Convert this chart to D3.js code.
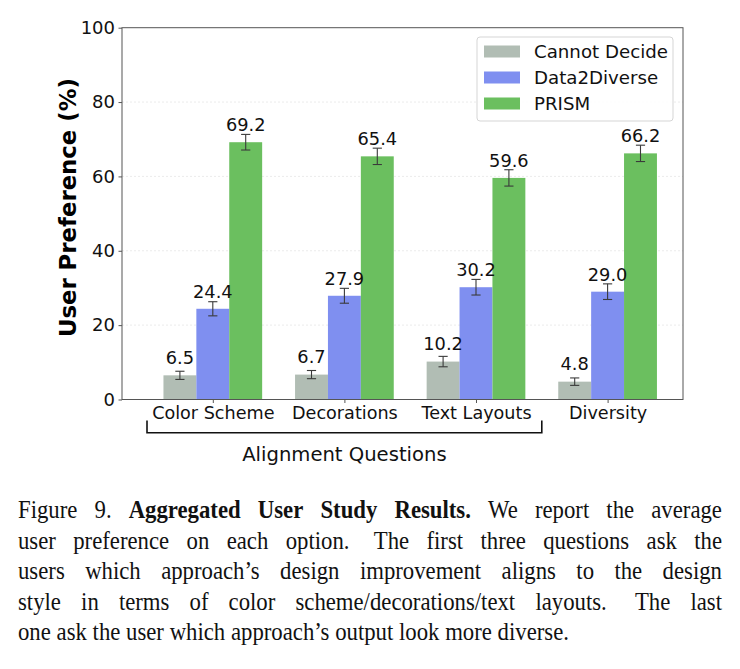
<!DOCTYPE html>
<html>
<head>
<meta charset="utf-8">
<script src="https://cdn.jsdelivr.net/npm/d3@7"></script>
<style>
html,body{margin:0;padding:0;background:#fff;}
svg{display:block;}
</style>
</head>
<body>
<svg id="chart" width="740" height="669"></svg>
<script>
// ---------- data ----------
const categories = ["Color Scheme", "Decorations", "Text Layouts", "Diversity"];
const seriesNames = ["Cannot Decide", "Data2Diverse", "PRISM"];
const cannotDecide = [6.5, 6.7, 10.2, 4.8];
const data2Diverse = [24.4, 27.9, 30.2, 29.0];
const prism = [69.2, 65.4, 59.6, 66.2];
const errCannotDecide = [1.1, 1.1, 1.4, 1.0];
const errData2Diverse = [1.9, 2.0, 2.1, 2.1];
const errPrism = [2.1, 2.2, 2.2, 2.2];
const yTicks = [0, 20, 40, 60, 80, 100];
const groupLabel = "Alignment Questions";
const yTitle = "User Preference (%)";
const captionLines = [
  [["Figure 9.", false], ["Aggregated User Study Results.", true], ["We report the average", false]],
  [["user preference on each option.  The first three questions ask the", false]],
  [["users which approach’s design improvement aligns to the design", false]],
  [["style in terms of color scheme/decorations/text layouts.  The last", false]],
  [["one ask the user which approach’s output look more diverse.", false]]
];

const seriesValues = [cannotDecide, data2Diverse, prism];
const seriesErrors = [errCannotDecide, errData2Diverse, errPrism];
const colors = ["#b1bdb4", "#7f8ff0", "#6bbf5f"];

(function () {
// ---------- layout ----------
const svg = d3.select("#chart");
const pL = 122, pR = 683, pT = 27.7, pB = 399.5;
const x = d3.scaleLinear().domain([-0.69, 3.573]).range([pL, pR]);
const y = d3.scaleLinear().domain([0, 100]).range([pB, pT]);
const barW = 0.25;
const sans = "DejaVu Sans, sans-serif";

// grid
svg.append("g").selectAll("line").data(yTicks.filter(t => t > 0 && t < 100)).join("line")
  .attr("x1", pL).attr("x2", pR)
  .attr("y1", d => y(d)).attr("y2", d => y(d))
  .attr("stroke", "#e6e6e6").attr("stroke-width", 0.8).attr("stroke-dasharray", "2,2");

// bars
seriesValues.forEach((vals, s) => {
  const off = (s - 1) * barW;
  svg.append("g").selectAll("rect").data(vals).join("rect")
    .attr("x", (d, i) => x(i + off - barW / 2))
    .attr("width", x(barW) - x(0))
    .attr("y", d => y(d))
    .attr("height", d => y(0) - y(d))
    .attr("fill", colors[s]);
});

// error bars
seriesValues.forEach((vals, s) => {
  const off = (s - 1) * barW;
  const g = svg.append("g").attr("stroke", "#3a3a3a").attr("stroke-width", 1.1);
  vals.forEach((v, i) => {
    const e = seriesErrors[s][i];
    const cx = x(i + off);
    g.append("line").attr("x1", cx).attr("x2", cx).attr("y1", y(v - e)).attr("y2", y(v + e));
    g.append("line").attr("x1", cx - 4.6).attr("x2", cx + 4.6).attr("y1", y(v - e)).attr("y2", y(v - e));
    g.append("line").attr("x1", cx - 4.6).attr("x2", cx + 4.6).attr("y1", y(v + e)).attr("y2", y(v + e));
  });
});

// value labels
seriesValues.forEach((vals, s) => {
  const off = (s - 1) * barW;
  svg.append("g").selectAll("text").data(vals).join("text")
    .attr("x", (d, i) => x(i + off))
    .attr("y", d => y(d + 3))
    .attr("text-anchor", "middle")
    .attr("font-family", sans).attr("font-size", 17.8).attr("fill", "#111")
    .text(d => d.toFixed(1));
});

// frame
svg.append("rect").attr("x", pL).attr("y", pT).attr("width", pR - pL).attr("height", pB - pT)
  .attr("fill", "none").attr("stroke", "#555").attr("stroke-width", 1);

// y axis
const yAxis = d3.axisLeft(y).tickValues(yTicks).tickSize(3.5).tickPadding(3.5).tickFormat(d3.format("d"));
const yg = svg.append("g").attr("transform", `translate(${pL},0)`).call(yAxis);
yg.select(".domain").remove();
yg.selectAll("line").attr("stroke", "#555");
yg.selectAll("text").attr("font-family", sans).attr("font-size", 18).attr("fill", "#111");

// x axis
const xAxis = d3.axisBottom(x).tickValues(d3.range(categories.length)).tickSize(3.5).tickPadding(4)
  .tickFormat(i => categories[i]);
const xg = svg.append("g").attr("transform", `translate(0,${pB})`).call(xAxis);
xg.select(".domain").remove();
xg.selectAll("line").attr("stroke", "#555");
xg.selectAll("text").attr("font-family", sans).attr("font-size", 17.6).attr("fill", "#111");

// y title
svg.append("text")
  .attr("transform", `translate(76,${(pT + pB) / 2 - 6}) rotate(-90)`)
  .attr("text-anchor", "middle")
  .attr("font-family", sans).attr("font-size", 22.8).attr("font-weight", "bold").attr("fill", "#000")
  .text(yTitle);

// bracket
const bx1 = x(-0.5), bx2 = x(2.5);
svg.append("path")
  .attr("d", `M${bx1},420.5 V432.8 H${bx2} V420.5`)
  .attr("fill", "none").attr("stroke", "#111").attr("stroke-width", 1.6);
svg.append("text")
  .attr("x", (bx1 + bx2) / 2).attr("y", 461)
  .attr("text-anchor", "middle")
  .attr("font-family", sans).attr("font-size", 19.6).attr("fill", "#111")
  .text(groupLabel);

// legend
const lg = svg.append("g");
lg.append("rect").attr("x", 477).attr("y", 37).attr("width", 196).attr("height", 84).attr("rx", 3)
  .attr("fill", "#fff").attr("fill-opacity", 0.85).attr("stroke", "#d5d5d5").attr("stroke-width", 1);
seriesNames.forEach((n, s) => {
  const cy = 51.5 + s * 26;
  lg.append("rect").attr("x", 484).attr("y", cy - 6).attr("width", 36).attr("height", 12).attr("fill", colors[s]);
  lg.append("text").attr("x", 534).attr("y", cy + 6.5)
    .attr("font-family", sans).attr("font-size", 18.2).attr("fill", "#111").text(n);
});

// caption
const serif = "Liberation Serif, Times New Roman, serif";
const capLeft = 18, capRight = 722;
const capSize = 25, sx = 0.91;
const baselines = [518, 548.5, 579, 609.5, 640];
captionLines.forEach((segs, li) => {
  const words = [];
  segs.forEach(([t, b]) => {
    t.split(/ +/).forEach(w => words.push({ w, b }));
  });
  const full = segs.map(s => s[0]).join(" ");
  const gapsWeights = [];
  full.split(/( +)/).forEach(t => { if (/^ +$/.test(t)) gapsWeights.push(t.length > 1 ? 1.4 : 1); });
  const g = svg.append("g");
  const nodes = words.map(o => g.append("text")
    .attr("font-family", serif).attr("font-size", capSize).attr("fill", "#111")
    .attr("font-weight", o.b ? "bold" : "normal")
    .text(o.w));
  const widths = nodes.map(n => n.node().getComputedTextLength() * sx);
  const total = d3.sum(widths);
  let gapUnit;
  if (li < captionLines.length - 1) {
    gapUnit = (capRight - capLeft - total) / d3.sum(gapsWeights);
  } else {
    gapUnit = capSize * 0.25 * sx;
  }
  let cx = capLeft;
  nodes.forEach((n, i) => {
    n.attr("transform", `translate(${cx},${baselines[li]}) scale(${sx},1)`);
    cx += widths[i] + (i < gapsWeights.length ? gapsWeights[i] * gapUnit : 0);
  });
});
})();
</script>
</body>
</html>
